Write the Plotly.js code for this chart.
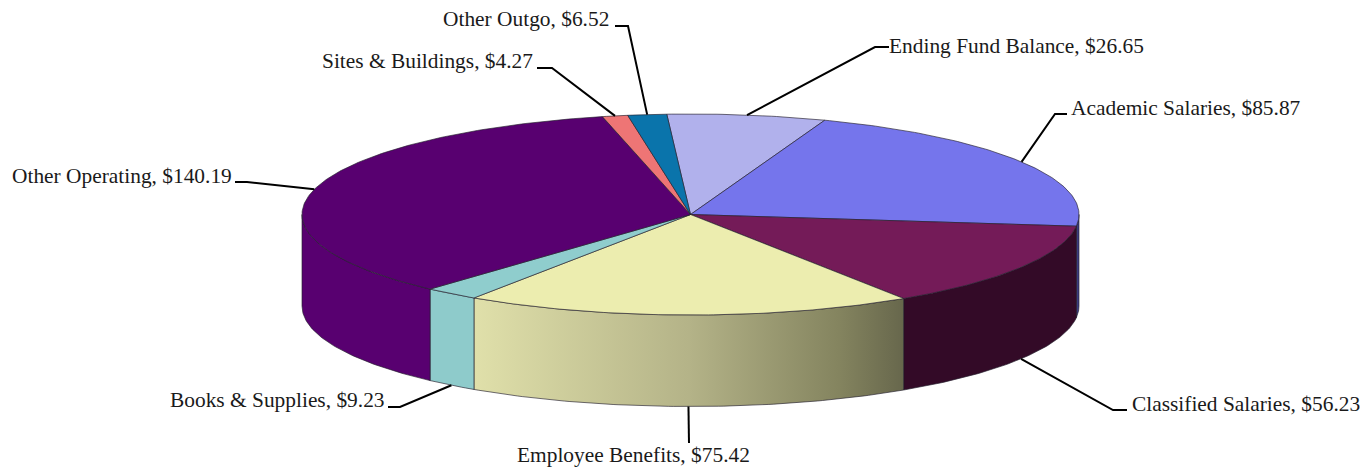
<!DOCTYPE html>
<html>
<head>
<meta charset="utf-8">
<script src="https://cdn.plot.ly/plotly-3.0.1.min.js"></script>
<style>html,body{margin:0;padding:0;background:#fff}#chart{width:1366px;height:469px}</style>
</head>
<body>
<div id="chart"></div>
<script>
// Data (clockwise from the top of the pie)
const categories = ["Ending Fund Balance","Academic Salaries","Classified Salaries","Employee Benefits","Books & Supplies","Other Operating","Sites & Buildings","Other Outgo"];
const values = [26.65,85.87,56.23,75.42,9.23,140.19,4.27,6.52];

// Styles
const topColors = ["#b1b1ec","#7575ec","#741b58","#ecedaf","#8fcdcd","#580070","#ee7575","#0a74ab"];
const wallColors = ["#8a8ab8","#3c3c80","#330a27","#c0bf8c","#8ecbcb","#580070","#b05858","#07527a"];
const wallGradient = [[0,"#e0e0aa"],[0.5,"#b4b388"],[0.85,"#84845f"],[1,"#67674c"]];
const gradientCategory = "Employee Benefits";

// Geometry of the drawing, in pixels
const cx = 690.5, cy = 214.5, rx = 388.5, ry = 100.5, depth = 91.5, startDeg = -3.5;
// Leader elbows and the point where each label begins
const elbowX = [875,1055,1113,689,400,247,552,628];
const elbowY = [47,114,410,443,407,182,68,26];
const labelEndX = [889,1067,1127,689,388,235,537,615];
const labelX = [889,1071,1132,517,170,12,322,443];
const labelY = [48,110,406,457,402,178,63,21];

const total = values.reduce((a,b)=>a+b,0);
const rad = d => d*Math.PI/180;
const px = d => cx + rx*Math.sin(rad(d));
const py = (d,h=0) => cy - ry*Math.cos(rad(d)) + h;
function arc(a,b,h=0){
  const n = Math.max(2,Math.ceil(Math.abs(b-a)/0.75));
  const xs=[],ys=[];
  for(let i=0;i<=n;i++){const d=a+(b-a)*i/n;xs.push(px(d));ys.push(py(d,h));}
  return [xs,ys];
}
const edge = "rgba(35,30,45,0.65)";
const traces = [];
const spans = [];
let acc = startDeg;
values.forEach(v=>{const s=acc;acc+=v/total*360;spans.push([s,acc]);});

// Front walls (only the part facing the viewer: 90°..270°)
spans.forEach(([s,e],i)=>{
  const a=Math.max(s,90), b=Math.min(e,270);
  if(b<=a) return;
  const [tx,ty]=arc(a,b,0), [bx,by]=arc(b,a,depth);
  const t={x:[...tx,...bx,tx[0]],y:[...ty,...by,ty[0]],mode:"lines",fill:"toself",
    line:{color:edge,width:1},hoverinfo:"skip",showlegend:false};
  if(categories[i]===gradientCategory){
    t.fillgradient={type:"horizontal",colorscale:wallGradient};
  } else t.fillcolor=wallColors[i];
  traces.push(t);
});

// Top face
spans.forEach(([s,e],i)=>{
  const [ax,ay]=arc(s,e,0);
  traces.push({x:[cx,...ax,cx],y:[cy,...ay,cy],mode:"lines",fill:"toself",fillcolor:topColors[i],
    line:{color:edge,width:1},hoverinfo:"skip",showlegend:false});
});

// Leader lines, anchored at each slice's mid-angle
spans.forEach(([s,e],i)=>{
  const m=(s+e)/2, norm=((m%360)+360)%360;
  const front = norm>115 && norm<245;
  traces.push({x:[px(m),elbowX[i],labelEndX[i]],y:[py(m,front?depth:0),elbowY[i],elbowY[i]],
    mode:"lines",line:{color:"#000",width:2},hoverinfo:"skip",showlegend:false});
});

// Labels
traces.push({x:labelX,y:labelY,mode:"text",textposition:"middle right",
  text:categories.map((c,i)=>c+", $"+values[i].toFixed(2)),
  textfont:{family:"'Liberation Serif','Times New Roman',serif",size:21.4,color:"#1a1a1a"},
  cliponaxis:false,hoverinfo:"skip",showlegend:false});

const hidden = {visible:false,fixedrange:true};
Plotly.newPlot("chart",traces,{
  width:1366,height:469,margin:{l:0,r:0,t:0,b:0},
  paper_bgcolor:"#fff",plot_bgcolor:"#fff",showlegend:false,
  xaxis:{...hidden,range:[0,1366]},
  yaxis:{...hidden,range:[469,0]}
},{displayModeBar:false,staticPlot:true});
</script>
</body>
</html>
